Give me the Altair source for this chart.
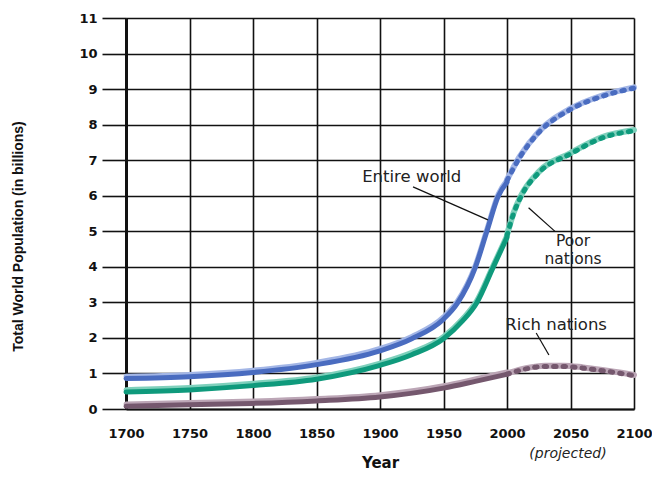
import altair as alt
import pandas as pd

# ---- data ----
world_years = [1700, 1750, 1800, 1850, 1900, 1925, 1950, 1961, 1975, 1984, 1993, 2000]
world_vals = [0.88, 0.93, 1.05, 1.27, 1.66, 2.0, 2.55, 3.0, 4.0, 5.0, 6.0, 6.4]
world_proj_years = [2000, 2010, 2025, 2050, 2075, 2100]
world_proj_vals = [6.45, 7.1, 7.8, 8.45, 8.82, 9.05]

poor_years = [1700, 1750, 1800, 1850, 1900, 1925, 1950, 1965, 1976, 1989, 2000]
poor_vals = [0.5, 0.56, 0.68, 0.86, 1.25, 1.55, 2.0, 2.5, 3.0, 4.0, 4.85]
poor_proj_years = [2000, 2005, 2011, 2025, 2050, 2075, 2100]
poor_proj_vals = [4.9, 5.5, 6.0, 6.67, 7.2, 7.65, 7.85]

rich_years = [1700, 1750, 1800, 1850, 1900, 1950, 1975, 2000]
rich_vals = [0.1, 0.14, 0.18, 0.25, 0.36, 0.61, 0.8, 1.0]
rich_proj_years = [2000, 2015, 2030, 2045, 2060, 2075, 2090, 2100]
rich_proj_vals = [1.0, 1.15, 1.22, 1.22, 1.17, 1.1, 1.02, 0.96]

series_names = ["Entire world", "Poor nations", "Rich nations"]
dark_colors = ["#4a6cc0", "#0f9a7c", "#75586e"]
light_colors = ["#a3b6e6", "#7fd0bc", "#bca6b6"]

x_ticks = [1700, 1750, 1800, 1850, 1900, 1950, 2000, 2050, 2100]
y_ticks = list(range(0, 12))

# annotations
ann_text = ["Entire world", "Poor\nnations", "Rich nations"]
ann_x = [1925, 2052, 2038.7]
ann_y = [6.53, 4.72, 2.36]
ann_size = [16.5, 15.5, 16.5]
proj_text = ["(projected)"]
proj_x = [2048]
proj_y = [-1.27]

lead_x = [1926, 2017, 2023]
lead_x2 = [1985, 2038, 2033]
lead_y = [6.25, 5.66, 2.14]
lead_y2 = [5.32, 4.99, 1.52]

# ---- tables ----
rows = []
for name, ys, vs in [(series_names[0], world_years, world_vals),
                     (series_names[1], poor_years, poor_vals),
                     (series_names[2], rich_years, rich_vals)]:
    for y, v in zip(ys, vs):
        rows.append({"series": name, "year": y, "pop": v})
solid = pd.DataFrame(rows)

rows = []
for name, ys, vs in [(series_names[0], world_proj_years, world_proj_vals),
                     (series_names[1], poor_proj_years, poor_proj_vals),
                     (series_names[2], rich_proj_years, rich_proj_vals)]:
    for y, v in zip(ys, vs):
        rows.append({"series": name, "year": y, "pop": v})
proj = pd.DataFrame(rows)

ann = pd.DataFrame({"text": ann_text, "year": ann_x, "pop": ann_y, "size": ann_size})
projann = pd.DataFrame({"text": proj_text, "year": proj_x, "pop": proj_y})
leads = pd.DataFrame({"year": lead_x, "year2": lead_x2, "pop": lead_y, "pop2": lead_y2})

LFONT = "DejaVu Sans"
TFONT = "Liberation Sans"

xscale = alt.Scale(domain=[1700, 2100], nice=False, zero=False)
yscale = alt.Scale(domain=[0, 11], nice=False)

xaxis = alt.Axis(values=x_ticks, format="d", title="Year", grid=True,
                 gridColor="#111", gridWidth=1.6, gridOpacity=1,
                 ticks=False, labelPadding=18, labelFont=LFONT,
                 labelFontWeight="bold", labelFontSize=13, labelColor="#111",
                 labelFlush=False, labelOverlap=False,
                 domainColor="#111", domainWidth=2,
                 titleFont=LFONT, titleFontSize=15, titleFontWeight="bold",
                 titleColor="#111", titleY=53, titleBaseline="middle")
yaxis = alt.Axis(values=y_ticks, title="Total World Population (in billions)",
                 grid=True, gridColor="#111", gridWidth=1.6, gridOpacity=1,
                 tickSize=24, tickColor="#111", tickWidth=1.6,
                 labelPadding=5, labelFont=LFONT, labelFontWeight="bold",
                 labelFontSize=13, labelColor="#111",
                 labelOverlap=False, labelFlush=False,
                 domainColor="#111", domainWidth=3,
                 titleFont=TFONT, titleFontSize=14,
                 titleFontWeight="bold", titleColor="#111",
                 titleX=-108, titleY=218, titleBaseline="middle",
                 titleAngle=270)

X = alt.X("year:Q", scale=xscale, axis=xaxis)
Y = alt.Y("pop:Q", scale=yscale, axis=yaxis)

light_scale = alt.Scale(domain=series_names, range=light_colors)
dark_scale = alt.Scale(domain=series_names, range=dark_colors)

base_solid = alt.Chart(solid)
base_proj = alt.Chart(proj)

solid_light = base_solid.mark_line(strokeWidth=5, interpolate="monotone", yOffset=-1.5,
                                   strokeCap="round").encode(
    x=X, y=Y, color=alt.Color("series:N", scale=light_scale, legend=None))
proj_light = base_proj.mark_line(strokeWidth=6, interpolate="monotone",
                                 strokeCap="round").encode(
    x=X, y=Y, color=alt.Color("series:N", scale=light_scale, legend=None))
lights = alt.layer(solid_light, proj_light)

solid_dark = base_solid.mark_line(strokeWidth=5, interpolate="monotone", yOffset=0.8,
                                  strokeCap="round").encode(
    x=X, y=Y, color=alt.Color("series:N", scale=dark_scale, legend=None))
proj_dark = base_proj.mark_line(strokeWidth=5, interpolate="monotone", yOffset=0.8,
                                strokeDash=[2.5, 7], strokeCap="round").encode(
    x=X, y=Y, color=alt.Color("series:N", scale=dark_scale, legend=None))
darks = alt.layer(solid_dark, proj_dark)

lead_rules = alt.Chart(leads).mark_rule(color="#111", strokeWidth=1.2).encode(
    x=X, x2="year2:Q", y=Y, y2="pop2:Q")

texts = alt.Chart(ann).mark_text(font=LFONT, color="#222",
                                 align="center", baseline="middle",
                                 lineBreak="\n", lineHeight=18).encode(
    x=X, y=Y, text="text:N",
    size=alt.Size("size:Q", scale=None, legend=None))

proj_label = alt.Chart(projann).mark_text(font=LFONT, fontSize=14, color="#222",
                                          fontStyle="italic",
                                          align="center", baseline="middle").encode(
    x=X, y=Y, text="text:N")

chart = alt.layer(lights, darks, lead_rules, texts, proj_label).resolve_scale(
    color="independent"
).properties(
    width=508, height=391,
    autosize=alt.AutoSizeParams(type="none"),
    padding={"left": 118, "top": 10, "right": 18, "bottom": 62},
    background="white",
).configure_view(stroke=None, clip=False)

chart.save("out.html", embed_options={"renderer": "svg", "actions": False})
